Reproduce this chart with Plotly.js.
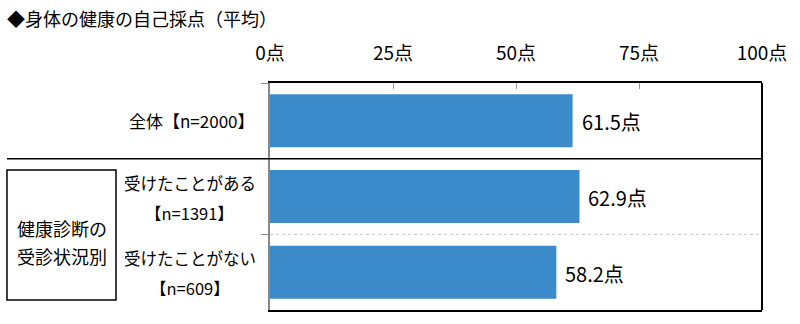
<!DOCTYPE html>
<html>
<head>
<meta charset="utf-8">
<script src="https://cdn.plot.ly/plotly-3.0.1.min.js"></script>
<style>html,body{margin:0;padding:0;background:#fff;}#chart{width:800px;height:324px;}</style>
</head>
<body>
<div id="chart"></div>
<script>
const categories = ['全体【n=2000】', '受けたことがある\n【n=1391】', '受けたことがない\n【n=609】'];
const values = [61.5, 62.9, 58.2];
const tickValues = [0, 25, 50, 75, 100];
const tickLabels = ['0点', '25点', '50点', '75点', '100点'];
const groupLabel = ['健康診断の', '受診状況別'];
const titleText = '◆身体の健康の自己採点（平均）';
const unit = '点';

const FONT = '"Noto Sans CJK JP", "Noto Sans", sans-serif';
const ykeys = categories.map((c, i) => 'c' + i);

const trace = {
  type: 'bar',
  orientation: 'h',
  x: values,
  y: ykeys,
  marker: {color: '#3b8bcb'},
  hoverinfo: 'none'
};

const annotations = [];
// data labels
values.forEach((v, i) => {
  annotations.push({
    x: v, y: ykeys[i], xref: 'x', yref: 'y',
    text: v.toFixed(1) + unit, showarrow: false,
    xanchor: 'left', yanchor: 'middle', xshift: 7, yshift: -1,
    font: {family: FONT, size: 20, color: '#000'}
  });
});
// category labels
categories.forEach((c, i) => {
  const lines = c.split('\n');
  if (lines.length === 1) {
    annotations.push({
      x: -0.026, y: ykeys[i], xref: 'paper', yref: 'y',
      text: lines[0], showarrow: false, xanchor: 'right', yanchor: 'middle', yshift: 0,
      font: {family: FONT, size: 17, color: '#000'}
    });
  } else {
    lines.forEach((ln, j) => {
      annotations.push({
        x: -0.163, y: ykeys[i], xref: 'paper', yref: 'y',
        text: ln, showarrow: false, xanchor: 'center', yanchor: 'middle',
        yshift: j === 0 ? 14 : -16,
        font: {family: FONT, size: 16.5, color: '#000'}
      });
    });
  }
});
// group box labels
groupLabel.forEach((ln, j) => {
  annotations.push({
    x: -0.4228, y: 0.300, xref: 'paper', yref: 'paper',
    text: ln, showarrow: false, xanchor: 'center', yanchor: 'middle',
    yshift: j === 0 ? 14 : -14,
    font: {family: FONT, size: 18, color: '#000'}
  });
});

const shapes = [
  // solid separator
  {type: 'line', xref: 'paper', yref: 'y', x0: -0.5346, x1: 1, y0: 0.5, y1: 0.5,
   line: {color: '#000', width: 1.5}},
  // dotted separator
  {type: 'line', xref: 'paper', yref: 'y', x0: 0, x1: 1, y0: 1.5, y1: 1.5,
   line: {color: '#c8c8c8', width: 1, dash: 'dot'}},
  // group box
  {type: 'rect', xref: 'paper', yref: 'paper', x0: -0.5346, x1: -0.313, y0: 0.044, y1: 0.617,
   line: {color: '#000', width: 1.5}, fillcolor: 'rgba(0,0,0,0)'},
  // right border
  {type: 'line', xref: 'paper', yref: 'paper', x0: 1, x1: 1, y0: 0, y1: 1,
   line: {color: '#000', width: 2}}
];

const layout = {
  width: 800, height: 324,
  margin: {l: 270, r: 38, t: 83, b: 14, pad: 0},
  paper_bgcolor: '#fff', plot_bgcolor: '#fff',
  showlegend: false,
  bargap: 0.30,
  title: {
    text: titleText, x: 7/800, xanchor: 'left', xref: 'container',
    y: 1 - 20/324, yanchor: 'middle', yref: 'container',
    font: {family: FONT, size: 18, color: '#000'}
  },
  xaxis: {
    side: 'top', range: [0, 100], tickvals: tickValues, ticktext: tickLabels,
    showgrid: false, zeroline: false,
    showline: true, linecolor: '#000', linewidth: 2, mirror: true,
    ticks: 'inside', ticklen: 6, tickcolor: '#999', tickwidth: 1,
    tickfont: {family: FONT, size: 19, color: '#000'},
    ticklabelstandoff: 13,
    fixedrange: true
  },
  yaxis: {
    type: 'category', categoryorder: 'array', categoryarray: ykeys,
    autorange: 'reversed', showticklabels: false, showgrid: false, zeroline: false,
    showline: true, linecolor: '#888', linewidth: 2,
    ticks: 'outside', ticklen: 7, tickcolor: '#888', tickwidth: 1, tickson: 'boundaries',
    fixedrange: true
  },
  annotations: annotations,
  shapes: shapes
};

Plotly.newPlot('chart', [trace], layout, {staticPlot: true, displayModeBar: false});
</script>
</body>
</html>
